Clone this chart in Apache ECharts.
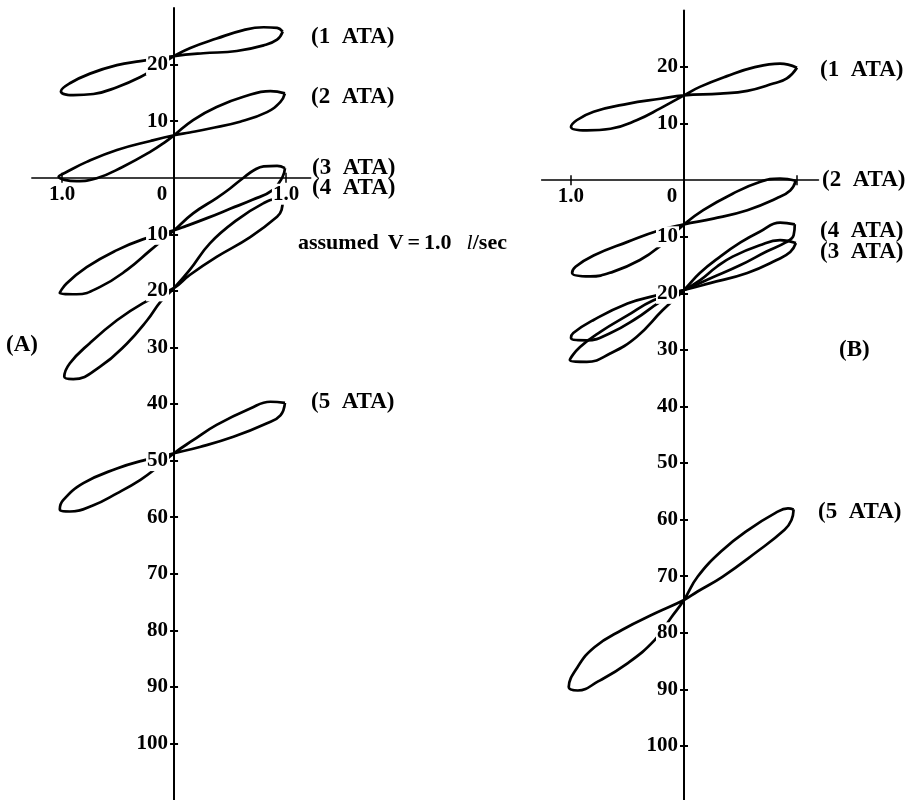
<!DOCTYPE html>
<html>
<head>
<meta charset="utf-8">
<script src="https://cdn.jsdelivr.net/npm/echarts@6/dist/echarts.min.js"></script>
<style>
  html, body { margin: 0; padding: 0; background: #fff; }
  #chart { width: 915px; height: 800px; }
</style>
</head>
<body>
<div id="chart"></div>
<script>
// Pressure–flow loops recorded at 1 to 5 ATA for two subjects, (A) and (B).
// x: flow (l/sec, drawn as magnitude on both sides), y: pressure (magnitude labels above/below zero).

const pressures = ['1 ATA', '2 ATA', '3 ATA', '4 ATA', '5 ATA'];
const panelNames = ['(A)', '(B)'];

// tick positions / labels
const yTickValues = [20, 10, -10, -20, -30, -40, -50, -60, -70, -80, -90, -100];
const xTickMarks = [-1, 1];
const xLabelsA = [-1, 0, 1];
const xLabelsB = [-1, 0];

// Panel (A) loops, [flow, pressure]
const loopA1 = [[0.97,25.8],[0.92,24.4],[0.80,23.4],[0.56,22.4],[0.26,22.0],[0,21.5],[-0.30,20.6],[-0.51,19.9],[-0.75,18.4],[-0.93,16.7],[-1.01,15.3],[-0.90,14.6],[-0.72,14.8],[-0.51,16.0],[-0.30,17.8],[-0.15,19.6],[0,21.5],[0.14,22.9],[0.38,24.6],[0.62,26.1],[0.80,26.6],[0.92,26.5],[0.97,25.8]];
const loopA2 = [[0.99,14.9],[0.95,13.4],[0.83,11.6],[0.59,9.9],[0.32,8.7],[0.14,8.0],[0,7.5],[-0.21,6.5],[-0.51,4.9],[-0.78,2.8],[-0.96,1.0],[-1.03,0.2],[-0.87,-0.6],[-0.69,-0.1],[-0.46,1.9],[-0.21,4.6],[-0.08,6.3],[0,7.5],[0.17,10.2],[0.38,12.5],[0.62,14.3],[0.86,15.3],[0.99,14.9]];
const loopA3 = [[0.99,1.7],[0.97,0.2],[0.88,-2.2],[0.70,-3.9],[0.50,-5.5],[0.30,-7.1],[0.10,-8.6],[0,-9.3],[-0.28,-10.9],[-0.51,-12.8],[-0.78,-15.8],[-0.96,-18.7],[-1.02,-20.4],[-0.87,-20.6],[-0.66,-19.3],[-0.42,-16.3],[-0.21,-12.8],[0,-9.3],[0.17,-6.3],[0.38,-3.6],[0.50,-1.9],[0.62,0],[0.72,1.4],[0.80,2.0],[0.92,2.1],[0.99,1.7]];
const loopA4 = [[0.97,-4.0],[0.96,-5.7],[0.92,-6.9],[0.68,-10.5],[0.38,-14.0],[0.14,-17.2],[0,-19.5],[-0.28,-22.2],[-0.51,-25.2],[-0.75,-29.2],[-0.93,-32.8],[-0.98,-35.2],[-0.90,-35.6],[-0.66,-33.4],[-0.42,-29.3],[-0.24,-25.2],[-0.12,-21.9],[0,-19.5],[0.14,-16.3],[0.32,-11.6],[0.56,-7.5],[0.80,-4.5],[0.92,-3.8],[0.97,-4.0]];
const loopA5 = [[0.99,-39.8],[0.95,-42.0],[0.83,-43.4],[0.53,-45.8],[0.23,-47.6],[0,-48.7],[-0.28,-50.0],[-0.51,-51.4],[-0.81,-54.0],[-0.99,-57.0],[-1.02,-58.6],[-0.93,-59.0],[-0.72,-57.9],[-0.51,-55.8],[-0.30,-53.4],[-0.15,-51.2],[0,-48.7],[0.17,-46.4],[0.38,-43.7],[0.68,-40.8],[0.86,-39.6],[0.99,-39.8]];

// Panel (B) loops, [flow, pressure]
const loopB1 = [[1.0,19.9],[0.91,18.0],[0.79,17.1],[0.56,15.8],[0.32,15.3],[0,15.0],[-0.21,14.4],[-0.5,13.5],[-0.8,12.1],[-0.95,10.6],[-1.0,9.4],[-0.86,8.8],[-0.65,9.1],[-0.42,10.6],[-0.21,12.7],[0,15.0],[0.14,16.5],[0.38,18.4],[0.61,19.9],[0.85,20.6],[1.0,19.9]];
const loopB2 = [[0.99,-0.1],[0.94,-1.8],[0.82,-3.2],[0.56,-5.3],[0.26,-6.8],[0,-7.8],[-0.21,-8.8],[-0.5,-10.9],[-0.8,-13.3],[-0.96,-15.3],[-0.99,-16.4],[-0.83,-17.0],[-0.63,-16.2],[-0.39,-14.1],[-0.21,-11.6],[0,-7.8],[0.17,-5.3],[0.43,-2.4],[0.67,-0.3],[0.85,0.3],[0.99,-0.1]];
const loopB3 = [[0.99,-11.1],[0.94,-12.7],[0.82,-14.1],[0.56,-16.4],[0.23,-18.2],[0,-19.4],[-0.27,-20.5],[-0.5,-21.8],[-0.8,-24.7],[-0.98,-27.0],[-1.0,-27.9],[-0.86,-28.3],[-0.65,-27.0],[-0.42,-24.4],[-0.21,-21.5],[0,-19.4],[0.14,-17.7],[0.29,-15.3],[0.43,-13.5],[0.67,-11.5],[0.85,-10.6],[0.99,-11.1]];
const loopB4 = [[0.98,-7.8],[0.97,-9.7],[0.90,-11.0],[0.73,-12.6],[0.5,-15.0],[0.25,-17.2],[0,-19.4],[-0.27,-21.2],[-0.5,-23.9],[-0.74,-26.8],[-0.92,-29.5],[-1.01,-31.8],[-0.86,-32.1],[-0.65,-30.6],[-0.42,-27.7],[-0.19,-23.0],[0,-19.4],[0.14,-16.4],[0.32,-13.5],[0.5,-11.0],[0.67,-9.1],[0.85,-7.5],[0.98,-7.8]];
const loopB5 = [[0.97,-58.2],[0.95,-60.1],[0.89,-61.8],[0.63,-65.9],[0.34,-70.1],[0.12,-72.7],[0,-74.2],[-0.26,-76.6],[-0.55,-79.5],[-0.79,-82.5],[-0.94,-86.0],[-1.02,-89.6],[-0.94,-90.2],[-0.76,-88.6],[-0.5,-85.4],[-0.26,-81.3],[-0.11,-77.2],[0,-74.2],[0.12,-70.1],[0.34,-65.4],[0.57,-61.8],[0.81,-58.8],[0.92,-58.0],[0.97,-58.2]];

const loopsA = [loopA1, loopA2, loopA3, loopA4, loopA5];
const loopsB = [loopB1, loopB2, loopB3, loopB4, loopB5];

// ---- layout ----
const FONT = '"Liberation Serif", "Times New Roman", serif';
const INK = '#000';
const gridA = { xMin: -1.27, xMax: 1.22, yMin: -110, yMax: 30, left: 31.8, top: 8, width: 278.9, height: 792 };
const gridB = { xMin: -1.26, xMax: 1.19, yMin: -110, yMax: 30, left: 541.6, top: 10.5, width: 276.9, height: 792 };

// shift axes so they cross at the data origin
function yAxisShift(g) { return -((0 - g.xMin) / (g.xMax - g.xMin)) * g.width; }
function xAxisShift(g) { return -((0 - g.yMin) / (g.yMax - g.yMin)) * g.height; }

const labelFont = { color: INK, fontFamily: FONT, fontWeight: 'bold', fontSize: 21 };

function mainY(g, gi) {
  return {
    gridIndex: gi, type: 'value', min: g.yMin, max: g.yMax, position: 'left',
    offset: yAxisShift(g), z: 6,
    axisLine: { show: true, onZero: false, lineStyle: { color: INK, width: 2 } },
    axisTick: { show: true, customValues: yTickValues, length: 4, lineStyle: { color: INK, width: 2 } },
    axisLabel: Object.assign({
      show: true, customValues: yTickValues, margin: 5,
      formatter: v => String(Math.abs(v)),
      backgroundColor: '#fff', padding: [0, 1]
    }, labelFont),
    splitLine: { show: false }
  };
}
function innerY(g, gi) {
  return {
    gridIndex: gi, type: 'value', min: g.yMin, max: g.yMax, position: 'left',
    offset: yAxisShift(g), z: 6,
    axisLine: { show: false, onZero: false },
    axisTick: { show: true, inside: true, customValues: yTickValues, length: 4, lineStyle: { color: INK, width: 2 } },
    axisLabel: { show: false },
    splitLine: { show: false }
  };
}
function mainX(g, gi, labels) {
  return {
    gridIndex: gi, type: 'value', min: g.xMin, max: g.xMax, position: 'bottom',
    offset: xAxisShift(g), z: 6,
    axisLine: { show: true, onZero: false, lineStyle: { color: INK, width: 1.5 } },
    axisTick: { show: true, customValues: xTickMarks, length: 5, lineStyle: { color: INK, width: 1.5 } },
    axisLabel: Object.assign({
      show: true, customValues: labels, margin: 6,
      formatter: v => (v === 0 ? '{z|0}' : '{n|' + Math.abs(v).toFixed(1) + '}'),
      rich: {
        z: Object.assign({ padding: [0, 24, 0, 0] }, labelFont),
        n: Object.assign({ backgroundColor: '#fff', padding: [0, 1] }, labelFont)
      }
    }, labelFont),
    splitLine: { show: false }
  };
}
function innerX(g, gi) {
  return {
    gridIndex: gi, type: 'value', min: g.xMin, max: g.xMax, position: 'bottom',
    offset: xAxisShift(g), z: 6,
    axisLine: { show: false, onZero: false },
    axisTick: { show: true, inside: true, customValues: xTickMarks, length: 5, lineStyle: { color: INK, width: 1.5 } },
    axisLabel: { show: false },
    splitLine: { show: false }
  };
}

function loopSeries(loops, axisIndex) {
  return loops.map((pts, i) => ({
    name: pressures[i] + ' ' + panelNames[axisIndex],
    type: 'line', xAxisIndex: axisIndex, yAxisIndex: axisIndex,
    data: pts, smooth: 0.45, showSymbol: false, symbol: 'none', clip: false,
    lineStyle: { color: INK, width: 2.7 }, z: 2, silent: true
  }));
}

const tagFont = 'bold 23px ' + FONT;
function tag(x, y, text) {
  return { type: 'text', x: x, y: y, z: 10,
    style: { text: text, font: tagFont, fill: INK, align: 'left', verticalAlign: 'middle' } };
}
// "(1 ATA)" captions, with a wider gap before "ATA"
const ata = i => '(' + pressures[i].replace(' ', '\u2002') + ')';

const noteFont = 'bold 22px ' + FONT;

const chart = echarts.init(document.getElementById('chart'), null, { renderer: 'canvas' });
chart.setOption({
  animation: false,
  backgroundColor: '#fff',
  grid: [
    { left: gridA.left, top: gridA.top, width: gridA.width, height: gridA.height, containLabel: false, outerBoundsMode: 'none' },
    { left: gridB.left, top: gridB.top, width: gridB.width, height: gridB.height, containLabel: false, outerBoundsMode: 'none' }
  ],
  xAxis: [mainX(gridA, 0, xLabelsA), mainX(gridB, 1, xLabelsB), innerX(gridA, 0), innerX(gridB, 1)],
  yAxis: [mainY(gridA, 0), mainY(gridB, 1), innerY(gridA, 0), innerY(gridB, 1)],
  series: loopSeries(loopsA, 0).concat(loopSeries(loopsB, 1)),
  graphic: [
    tag(311, 37, ata(0)),
    tag(311, 97, ata(1)),
    tag(312, 168, ata(2)),
    tag(312, 188, ata(3)),
    tag(311, 402, ata(4)),
    tag(820, 70, ata(0)),
    tag(822, 180, ata(1)),
    tag(820, 231, ata(3)),
    tag(820, 252, ata(2)),
    tag(818, 512, ata(4)),
    tag(6, 345, panelNames[0]),
    tag(839, 350, panelNames[1]),
    { type: 'text', x: 298, y: 243, z: 10,
      style: {
        text: '{a|assumed}{v|V}{e|=}{a|1.0}{i|l}{a|/sec}',
        align: 'left', verticalAlign: 'middle', fill: INK,
        rich: {
          a: { font: noteFont, fill: INK },
          v: { font: noteFont, fill: INK, padding: [0, 0, 0, 9] },
          e: { font: noteFont, fill: INK, padding: [0, 4, 0, 4] },
          i: { font: 'italic 22px ' + FONT, fill: INK, padding: [0, 0, 0, 15] }
        }
      } }
  ]
});
</script>
</body>
</html>
